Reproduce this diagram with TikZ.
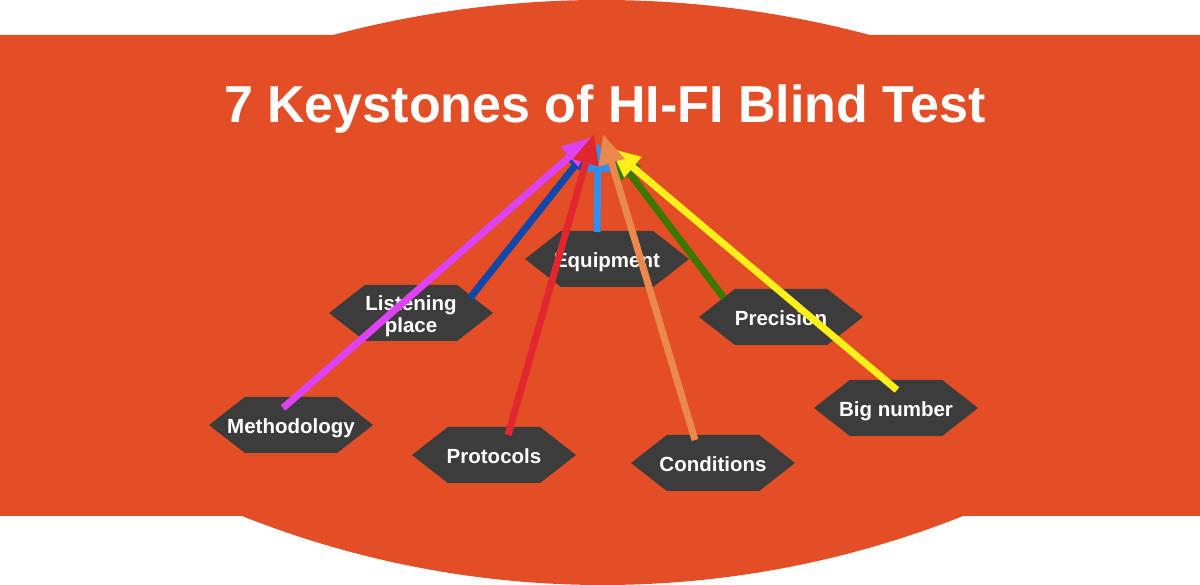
\documentclass[tikz,border=0pt]{standalone}
\usepackage{fontspec}
\setmainfont{Liberation Sans}
\usetikzlibrary{arrows.meta,shapes.symbols,calc}
\definecolor{bg}{RGB}{227,78,38}
\definecolor{nodegray}{RGB}{60,60,60}
\definecolor{cmag}{RGB}{222,66,245}
\definecolor{cdblue}{RGB}{16,72,170}
\definecolor{cred}{RGB}{226,38,45}
\definecolor{clblue}{RGB}{48,144,240}
\definecolor{corange}{RGB}{233,137,75}
\definecolor{cgreen}{RGB}{60,120,0}
\definecolor{cyellow}{RGB}{255,240,25}
\newcommand{\hxtext}[1]{\makebox[0pt]{\smash{\raisebox{-9pt}{\begin{tabular}{@{}c@{}}#1\end{tabular}}}}}
\begin{document}
\begin{tikzpicture}[x=1pt,y=1pt,
  hexa/.style={shape=signal, signal to=east and west, signal pointer angle=76,
    fill=nodegray, minimum width=164pt, minimum height=56pt, inner sep=0pt,
    text=white, font=\bfseries\fontsize{20.5}{22}\selectfont},
  link/.style={line width=7pt, -{Triangle[length=30pt,width=25pt]}}]
\useasboundingbox (0,0) rectangle (1200,585);
\fill[bg] (0,69) -- (242,69) arc[start angle=248.32,end angle=291.68,radius=976]
  -- (1200,69) -- (1200,550) -- (870,550)
  arc[start angle=75.14,end angle=104.86,radius=1047] -- (0,550) -- cycle;
\node[anchor=base, inner sep=0pt, text=white, font=\bfseries\fontsize{52}{60}\selectfont] (title) at (605,462) {7 Keystones of HI-FI Blind Test};
\node[hexa] (equip) at (607,326) {\hxtext{Equipment}};
\node[hexa] (listen) at (411,272) {\hxtext{Listening\\place}};
\node[hexa] (meth) at (291,160) {\hxtext{Methodology}};
\node[hexa] (prec) at (781,268) {\hxtext{Precision}};
\node[hexa] (big) at (896,177) {\hxtext{Big number}};
\node[hexa] (proto) at (494,130) {\hxtext{Protocols}};
\node[hexa] (cond) at (713,122) {\hxtext{Conditions}};
\draw[link, cdblue] ([shift={(59,15)}]listen.center) -- ([shift={(-12,-9)}]title.south);
\draw[link, cgreen] ([shift={(-57,19)}]prec.center) -- ([shift={(7,-16)}]title.south);
\draw[link, cmag] ([shift={(-8,17)}]meth.center) -- ([shift={(-13,-3)}]title.south);
\draw[link, cyellow] ([shift={(1,18)}]big.center) -- ([shift={(5,-14)}]title.south);
\draw[link, clblue] ([shift={(-10,27)}]equip.center) -- ([shift={(-7,-8)}]title.south);
\draw[link, cred] ([shift={(14,20)}]proto.center) -- ([shift={(-11,0)}]title.south);
\draw[link, corange] ([shift={(-18,23)}]cond.center) -- ([shift={(-2,0)}]title.south);
\end{tikzpicture}
\end{document}
